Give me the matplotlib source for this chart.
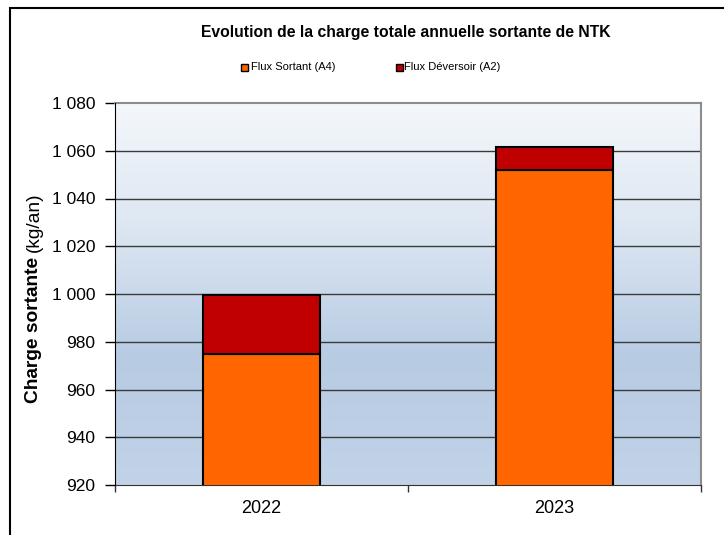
import matplotlib
matplotlib.use("Agg")
import matplotlib.pyplot as plt
import numpy as np
from matplotlib.ticker import FuncFormatter, FixedLocator
from matplotlib.patches import Rectangle
from matplotlib.colors import LinearSegmentedColormap

plt.rcParams['font.family'] = ['Liberation Sans', 'DejaVu Sans']

years = ['2022', '2023']
flux_sortant = [975, 1052]
flux_deversoir = [24.7, 9.6]
series_labels = ['Flux Sortant (A4)', 'Flux Déversoir (A2)']
colors = ['#FF6600', '#C00000']
title = 'Evolution de la charge totale annuelle sortante de NTK'
y_ticks = [920, 940, 960, 980, 1000, 1020, 1040, 1060, 1080]

W, H = 724, 535
fig = plt.figure(figsize=(W / 100, H / 100), dpi=100)
ax = fig.add_axes([115 / W, (H - 485) / H, 586 / W, 382 / H])

x = np.arange(len(years))
ymin, ymax = y_ticks[0], y_ticks[-1]

# gradient background (row 0 = top)
cmap = LinearSegmentedColormap.from_list('bg', ['#F4F7FB', '#DCE6F2', '#B7CBE3', '#C2D3E8'])
grad = np.linspace(0, 1, 256).reshape(-1, 1)
ax.imshow(grad, aspect='auto', cmap=cmap, extent=[-0.5, 1.5, ymin, ymax], origin='upper',
          zorder=0, interpolation='bicubic')

for yv in y_ticks[1:-1]:
    ax.axhline(yv, color='#3a3a3a', lw=1.0, zorder=1)

ax.bar(x, flux_sortant, width=0.4, bottom=0, color=colors[0], edgecolor='black', lw=1.5, zorder=3)
ax.bar(x, flux_deversoir, width=0.4, bottom=flux_sortant, color=colors[1], edgecolor='black', lw=1.5, zorder=3)

ax.set_xlim(-0.5, 1.5)
ax.set_ylim(ymin, ymax)
ax.set_yticks(y_ticks)
ax.yaxis.set_major_formatter(FuncFormatter(lambda v, p: f"{int(v):,}".replace(',', ' ')))
ax.tick_params(axis='y', direction='out', length=7, width=1, pad=7, labelsize=12.5, colors='black')

ax.xaxis.set_major_locator(FixedLocator([-0.5, 0.5, 1.5]))
ax.xaxis.set_major_formatter(FuncFormatter(lambda v, p: ''))
ax.set_xticks(list(x), minor=True)
ax.set_xticklabels(years, minor=True)
ax.tick_params(axis='x', which='major', direction='out', length=5, width=1, color='#333333')
ax.tick_params(axis='x', which='minor', length=0, pad=11, labelsize=13)

for s in ['top', 'right']:
    ax.spines[s].set_color('#8c8c8c')
    ax.spines[s].set_linewidth(1.5)
ax.spines['left'].set_color('black')
ax.spines['bottom'].set_color('#333333')
ax.spines['left'].set_zorder(5)

# composite ylabel: bold part + normal part
t1 = fig.text(34 / W, 1 - 403 / H, 'Charge sortante ', rotation=90,
              ha='center', va='bottom', fontsize=13.8, fontweight='bold')
fig.canvas.draw()
bb = t1.get_window_extent()
fig.text(34 / W, bb.y1 / H, '(kg/an)', rotation=90, ha='center', va='bottom', fontsize=13.8)

fig.text(406 / W, 1 - 33 / H, title, ha='center', va='center', fontsize=11.3, fontweight='bold')

# legend
leg_items = [(241, 251), (396, 404)]
for (mx, tx), lab, c in zip(leg_items, series_labels, colors):
    fig.patches.append(Rectangle((mx / W, 1 - 71 / H), 7 / W, 7 / H, transform=fig.transFigure,
                                 facecolor=c, edgecolor='black', lw=1.0))
    fig.text(tx / W, 1 - 67 / H, lab, ha='left', va='center', fontsize=8)

fig.patches.append(Rectangle((10 / W, -0.1), 1.2, 1.1 - 8 / H, transform=fig.transFigure,
                             fill=False, edgecolor='black', lw=1.5, clip_on=False))

fig.savefig('out.png', dpi=100)
